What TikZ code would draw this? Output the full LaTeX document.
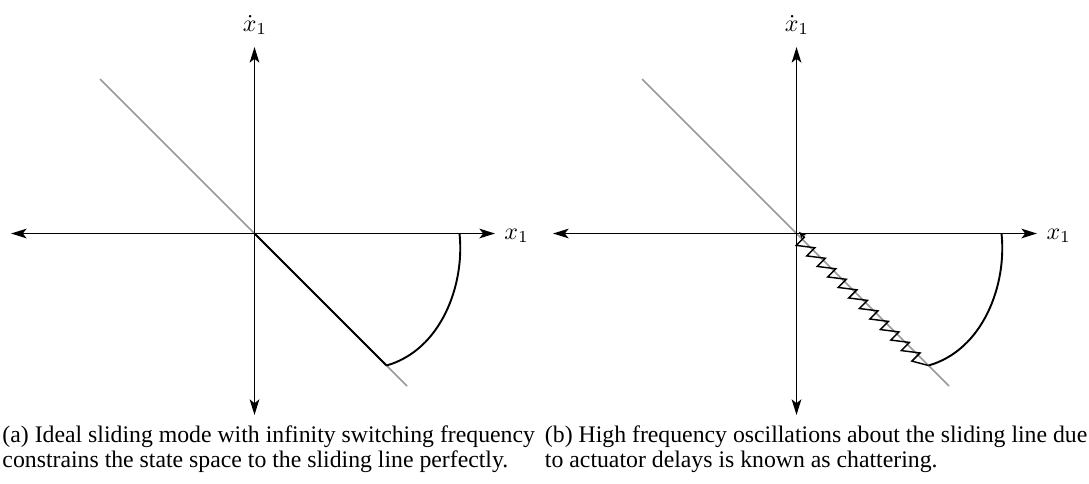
\documentclass[tikz,border=0pt]{standalone}
\usepackage[no-math]{fontspec}
\newfontfamily\capfont{Liberation Serif}
\usetikzlibrary{arrows.meta,decorations.pathmorphing}
\begin{document}
\begin{tikzpicture}[x=0.4167pt,y=-0.4167pt,
  axtip/.tip={Stealth[length=6.5pt,width=4pt,inset=1.6pt]},
  axis/.style={thick,axtip-axtip},
  sline/.style={semithick,black!40},
  traj/.style={thick},
  chatter/.style={semithick,-{Stealth[length=3.2pt,width=2.6pt]},decorate,
    decoration={saw,segment length=6.2pt,amplitude=4.8pt,raise=-1.2pt}},
  lab/.style={inner sep=0pt},
  captxt/.style={anchor=base west,inner sep=0pt,font=\capfont\fontsize{9.9}{12}\selectfont}]
\useasboundingbox (0,0) rectangle (1089,483);
% ---------------- left panel
\coordinate (O1) at (254.5,233.5);
\coordinate (L1) at (11,233.5);
\coordinate (R1) at (495,233.5);
\coordinate (T1) at (254.5,47);
\coordinate (B1) at (254.5,415);
\coordinate (Sa1) at (100,79);
\coordinate (Sb1) at (407,386);
\coordinate (P1) at (386.5,365.5);
\coordinate (E1) at (459.5,233.5);
\draw[sline] (Sa1) -- (Sb1);
\draw[axis] (L1) -- (R1);
\draw[axis] (B1) -- (T1);
\node[lab,anchor=west] (xa) at (504,236) {$x_1$};
\node[lab] (ya) at (255,25) {$\dot x_1$};
\draw[thick] (P1) -- (O1);
\draw[traj] (P1) .. controls (441,350) and (465,285) .. (E1);
% ---------------- right panel
\begin{scope}[shift={(542,0)}]
\coordinate (O2) at (254.5,233.5);
\coordinate (L2) at (11,233.5);
\coordinate (R2) at (495,233.5);
\coordinate (T2) at (254.5,47);
\coordinate (B2) at (254.5,415);
\coordinate (Sa2) at (100,79);
\coordinate (Sb2) at (407,386);
\coordinate (P2) at (386.5,365.5);
\coordinate (E2) at (459.5,233.5);
\draw[sline] (Sa2) -- (Sb2);
\draw[axis] (L2) -- (R2);
\draw[axis] (B2) -- (T2);
\node[lab,anchor=west] (xb) at (504,236) {$x_1$};
\node[lab] (yb) at (255,25) {$\dot x_1$};
\draw[chatter] (P2) -- (O2);
\draw[traj] (P2) .. controls (441,350) and (465,285) .. (E2);
\end{scope}
% ---------------- captions
\node[captxt] (ca1) at (2,442) {(a) Ideal sliding mode with infinity switching frequency};
\node[captxt] (ca2) at (2,467) {constrains the state space to the sliding line perfectly.};
\node[captxt] (cb1) at (544.5,442) {(b) High frequency oscillations about the sliding line due};
\node[captxt] (cb2) at (544.5,467) {to actuator delays is known as chattering.};
\end{tikzpicture}
\end{document}
